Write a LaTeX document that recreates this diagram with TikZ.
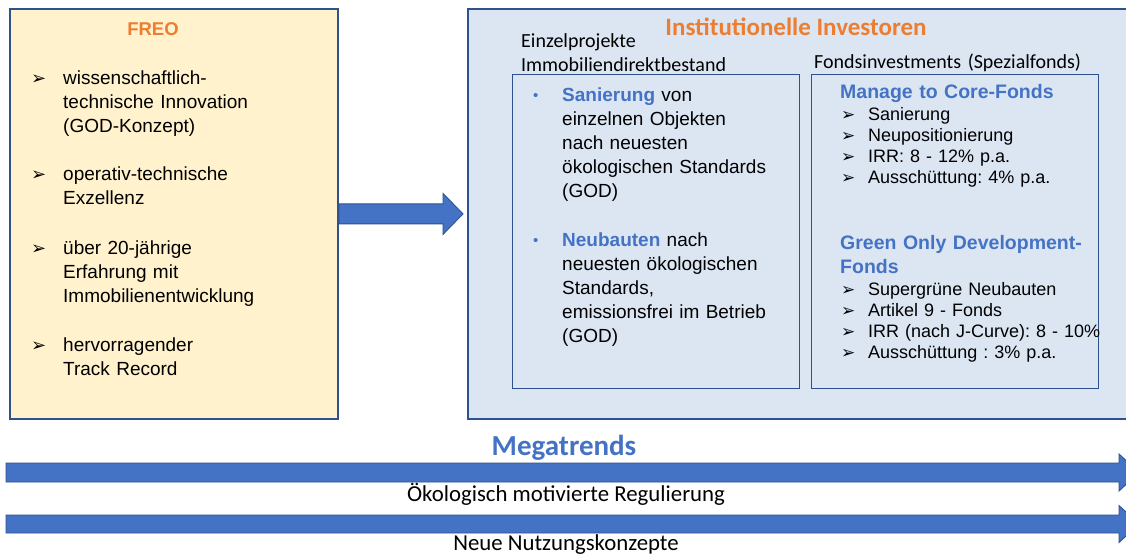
\documentclass[tikz,border=0pt]{standalone}
\usepackage{fontspec}
\setmainfont{Liberation Sans}
\newfontfamily\calfont{Carlito}
\newfontfamily\dvfont{DejaVu Sans}
\usetikzlibrary{calc}
\definecolor{tblue}{HTML}{4472C4}
\definecolor{bdark}{HTML}{2F528F}
\definecolor{orng}{HTML}{ED7D31}
\definecolor{lblue}{HTML}{DCE6F3}
\definecolor{lyel}{HTML}{FFF2CC}
\frenchspacing
\begin{document}
\begin{tikzpicture}[x=1pt,y=-1pt,
  panel/.style={draw=bdark, line width=1.8pt, inner sep=0pt, anchor=north west},
  subpanel/.style={draw=bdark, line width=1.3pt, inner sep=0pt, anchor=north west},
  barrow/.style={fill=tblue, draw=bdark, line width=0.9pt, line join=miter},
  body/.style={inner sep=0pt, anchor=base west, align=left, text width=270pt, font=\fontsize{19}{24.3}\selectfont},
  midbody/.style={inner sep=0pt, anchor=base west, align=left, text width=235pt, font=\fontsize{19}{24.2}\selectfont},
  rbody/.style={inner sep=0pt, anchor=base west, align=left, text width=240pt, font=\fontsize{18}{21}\selectfont},
  rtitle/.style={inner sep=0pt, anchor=base west, align=left, text width=250pt, text=tblue, font=\bfseries\fontsize{19.5}{24}\selectfont},
  bmark/.style={inner sep=0pt, anchor=base west, align=left, text width=20pt, font=\dvfont\fontsize{18}{24.3}\selectfont},
  rmark/.style={inner sep=0pt, anchor=base west, align=left, text width=20pt, font=\dvfont\fontsize{17}{21}\selectfont},
  bdot/.style={inner sep=0pt, anchor=base west, text=tblue, font=\fontsize{15}{24}\selectfont},
  caltext/.style={inner sep=0pt, anchor=base west, align=left, text width=300pt, font=\calfont\fontsize{20}{24}\selectfont},
  trend/.style={inner sep=0pt, anchor=base, font=\calfont\fontsize{22.8}{24}\selectfont}
]
\useasboundingbox (0,0) rectangle (1126,555);
\clip (0,0) rectangle (1126,555);
\fill[white] (0,0) rectangle (1126,555);

% panels
\node[panel, fill=lyel, minimum width=328pt, minimum height=410pt] (freo) at (9,8) {};
\node[panel, fill=lblue, minimum width=680pt, minimum height=410pt] (inst) at (467,8) {};
\node[subpanel, minimum width=287pt, minimum height=314pt] (einzel) at (512,74) {};
\node[subpanel, minimum width=287pt, minimum height=314pt] (fonds) at (811,74) {};

% arrow FREO -> Investoren
\draw[barrow] ([yshift=10pt]freo.east) -- ([yshift=10pt,xshift=-24pt]inst.west)
  -- ([yshift=20.5pt,xshift=-24pt]inst.west) -- ([xshift=-4pt]inst.west)
  -- ([yshift=-20.5pt,xshift=-24pt]inst.west) -- ([yshift=-10pt,xshift=-24pt]inst.west)
  -- ([yshift=-10pt]freo.east) -- cycle;

% FREO content
\node[inner sep=0pt, anchor=base, text=orng, font=\bfseries\fontsize{18.5}{20}\selectfont] (freotitle) at (153,35) {FREO};
\node[bmark] (fm1) at (31,84) {➢};
\node[body] (f1) at (63,84) {wissenschaftlich-\\technische Innovation\\(GOD-Konzept)};
\node[bmark] (fm2) at (31,180) {➢};
\node[body] (f2) at (63,180) {operativ-technische\\Exzellenz};
\node[bmark] (fm3) at (31,254) {➢};
\node[body] (f3) at (63,254) {über 20-jährige\\Erfahrung mit\\Immobilienentwicklung};
\node[bmark] (fm4) at (31,351) {➢};
\node[body] (f4) at (63,351) {hervorragender\\Track Record};

% Investoren content
\node[inner sep=0pt, anchor=base, text=orng, font=\calfont\bfseries\fontsize{25}{26}\selectfont] (insttitle) at (796,35) {Institutionelle Investoren};
\node[caltext] (einzellabel) at (521,47) {Einzelprojekte\\Immobiliendirektbestand};
\node[caltext] (fondslabel) at (814,68) {Fondsinvestments (Spezialfonds)};

\node[bdot] (d1) at (533,100) {•};
\node[midbody] (e1) at (562,101) {{\bfseries\color{tblue}Sanierung} von\\einzelnen Objekten\\nach neuesten\\ökologischen Standards\\(GOD)};
\node[bdot] (d2) at (533,245) {•};
\node[midbody] (e2) at (562,246) {{\bfseries\color{tblue}Neubauten} nach\\neuesten ökologischen\\Standards,\\emissionsfrei im Betrieb\\(GOD)};

\node[rtitle] (mtc) at (840,98) {Manage to Core-Fonds};
\node[rmark] (rm1) at (841,120) {➢\\➢\\➢\\➢};
\node[rbody] (r1) at (868,120) {Sanierung\\Neupositionierung\\IRR: 8 - 12\% p.a.\\Ausschüttung: 4\% p.a.};
\node[rtitle] (god) at (840,249) {Green Only Development-\\Fonds};
\node[rmark] (rm2) at (841,295) {➢\\➢\\➢\\➢};
\node[rbody] (r2) at (868,295) {Supergrüne Neubauten\\Artikel 9 - Fonds\\IRR (nach J-Curve): 8 - 10\%\\Ausschüttung : 3\% p.a.};

% Megatrends
\node[inner sep=0pt, anchor=base, text=tblue, font=\calfont\bfseries\fontsize{29}{30}\selectfont] (mega) at (564,455) {Megatrends};
\coordinate (m1a) at (6,472.5);
\coordinate (m1b) at (1139,472.5);
\draw[barrow] ($(m1a)+(0,-9.5)$) -- ($(m1b)+(-20,-9.5)$) -- ($(m1b)+(-20,-18.5)$) -- (m1b)
  -- ($(m1b)+(-20,18.5)$) -- ($(m1b)+(-20,9.5)$) -- ($(m1a)+(0,9.5)$) -- cycle;
\node[trend] (reg) at (566,501) {Ökologisch motivierte Regulierung};
\coordinate (m2a) at (6,524);
\coordinate (m2b) at (1139,524);
\draw[barrow] ($(m2a)+(0,-9)$) -- ($(m2b)+(-20,-9)$) -- ($(m2b)+(-20,-18.5)$) -- (m2b)
  -- ($(m2b)+(-20,18.5)$) -- ($(m2b)+(-20,9)$) -- ($(m2a)+(0,9)$) -- cycle;
\node[trend] (nutz) at (566,550) {Neue Nutzungskonzepte};
\end{tikzpicture}
\end{document}
